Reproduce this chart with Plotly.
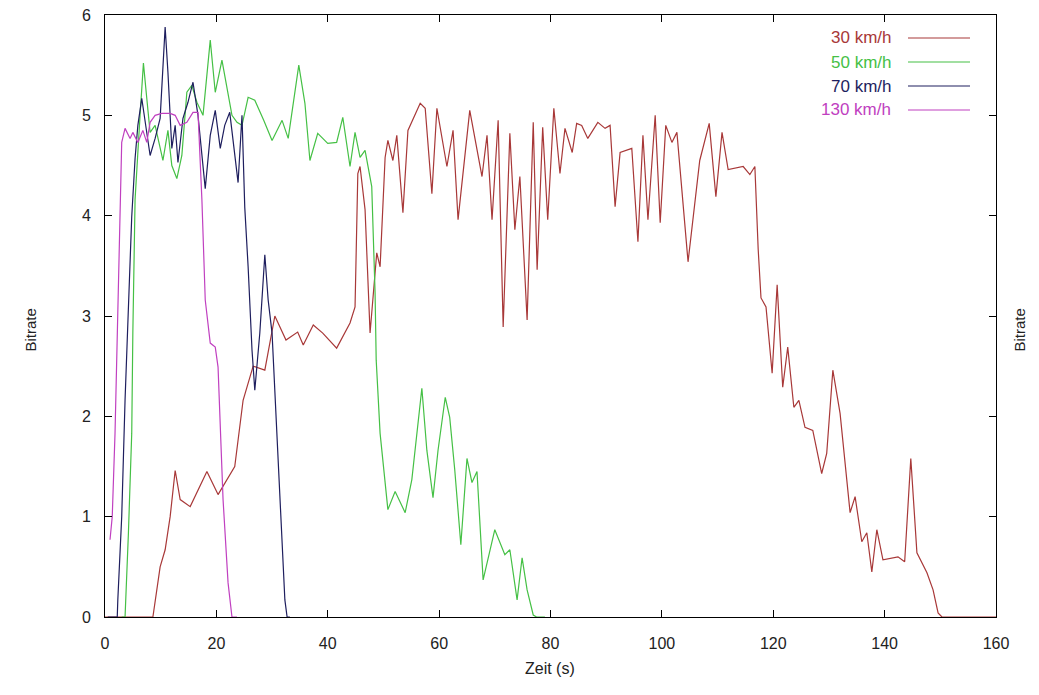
import plotly.graph_objects as go

# ---- data (time in s, bitrate) ----
series_names = ["30 km/h", "50 km/h", "70 km/h", "130 km/h"]

kmh30 = [(0, 0), (8.6, 0), (9.9, 0.5), (10.8, 0.67), (11.7, 1.0), (12.6, 1.46), (13.5, 1.17),
         (15.3, 1.1), (18.3, 1.45), (20.3, 1.22), (23.3, 1.5), (24.8, 2.16), (26.6, 2.5),
         (28.7, 2.46), (30.5, 3.0), (32.5, 2.76), (34.6, 2.84), (35.6, 2.71), (37.4, 2.91),
         (39.1, 2.83), (41.6, 2.68), (44.0, 2.93), (44.9, 3.09), (45.4, 4.42), (45.8, 4.49),
         (46.7, 4.06), (47.6, 2.83), (48.2, 3.23), (48.8, 3.63), (49.4, 3.49), (50.3, 4.58),
         (50.8, 4.75), (51.7, 4.55), (52.4, 4.80), (53.5, 4.03), (54.4, 4.85), (56.6, 5.12),
         (57.5, 5.07), (58.7, 4.22), (59.6, 5.07), (61.4, 4.49), (62.5, 4.85), (63.4, 3.96),
         (65.5, 5.05), (67.7, 4.39), (68.6, 4.80), (69.5, 3.96), (70.6, 4.95), (71.5, 2.89),
         (72.7, 4.82), (73.6, 3.86), (74.5, 4.39), (75.8, 2.96), (76.9, 4.93), (77.6, 3.46),
         (78.6, 4.88), (79.5, 3.96), (80.6, 5.07), (81.7, 4.42), (82.6, 4.87), (83.9, 4.63),
         (84.7, 4.92), (85.6, 4.90), (86.7, 4.77), (88.5, 4.93), (89.8, 4.87), (90.7, 4.90),
         (91.6, 4.09), (92.5, 4.63), (94.6, 4.67), (95.7, 3.74), (96.6, 4.80), (97.5, 3.96),
         (98.8, 5.00), (99.7, 3.93), (100.7, 4.90), (101.8, 4.73), (102.7, 4.83), (104.7, 3.54),
         (106.8, 4.55), (108.5, 4.92), (109.7, 4.19), (110.8, 4.83), (111.9, 4.46), (114.6, 4.49),
         (115.8, 4.41), (116.7, 4.49), (117.3, 3.66), (117.8, 3.18), (118.7, 3.09), (119.8, 2.43),
         (120.7, 3.31), (121.7, 2.29), (122.6, 2.69), (123.7, 2.09), (124.6, 2.16), (125.7, 1.89),
         (127.1, 1.86), (128.7, 1.43), (129.6, 1.63), (130.7, 2.46), (132.0, 2.03), (133.8, 1.04),
         (134.7, 1.20), (135.9, 0.75), (136.8, 0.84), (137.7, 0.45), (138.6, 0.87), (139.7, 0.57),
         (142.4, 0.60), (143.6, 0.55), (144.7, 1.58), (145.8, 0.64), (147.6, 0.44), (148.7, 0.27),
         (149.6, 0.04), (150.3, 0), (160, 0)]

kmh50 = [(3.0, 0), (3.6, 0), (4.2, 0.83), (4.8, 1.83), (5.0, 2.83), (5.4, 4.16), (6.3, 5.0),
         (6.9, 5.52), (7.5, 5.17), (8.1, 4.83), (9.0, 4.9), (10.4, 4.55), (11.3, 4.85), (12.0, 4.5),
         (12.9, 4.37), (13.8, 4.6), (14.7, 5.23), (15.6, 5.3), (16.5, 5.13), (17.6, 5.0),
         (18.9, 5.75), (19.8, 5.23), (21.0, 5.55), (22.1, 5.2), (22.8, 5.0), (23.7, 4.93),
         (24.6, 4.9), (25.7, 5.18), (26.9, 5.15), (28.5, 4.95), (30.0, 4.75), (31.8, 4.95),
         (32.9, 4.77), (34.8, 5.50), (35.9, 5.12), (36.8, 4.55), (38.2, 4.82), (40.0, 4.72),
         (41.6, 4.73), (42.7, 4.98), (44.0, 4.49), (44.9, 4.83), (45.8, 4.58), (46.7, 4.65),
         (47.9, 4.29), (48.5, 3.23), (48.7, 2.56), (49.4, 1.83), (50.3, 1.37), (50.8, 1.07),
         (52.1, 1.25), (53.9, 1.04), (55.1, 1.37), (56.9, 2.28), (57.8, 1.66), (58.9, 1.19),
         (59.8, 1.66), (61.1, 2.19), (61.9, 1.99), (62.8, 1.47), (63.9, 0.72), (65.0, 1.58),
         (65.9, 1.34), (66.8, 1.45), (67.9, 0.37), (70.0, 0.87), (71.8, 0.62), (72.7, 0.67),
         (74.0, 0.17), (74.9, 0.59), (75.8, 0.27), (76.9, 0.02), (77.5, 0), (79.0, 0)]

kmh70 = [(0.5, 0), (2.2, 0), (2.3, 0.17), (3.0, 1.0), (3.6, 2.16), (4.2, 3.16), (4.8, 3.99),
         (5.4, 4.57), (5.9, 4.9), (6.6, 5.17), (7.2, 4.93), (8.1, 4.6), (9.0, 4.77), (9.9, 4.97),
         (10.8, 5.88), (11.3, 5.43), (12.0, 4.67), (12.6, 4.9), (13.1, 4.53), (14.0, 4.97),
         (14.9, 5.13), (15.8, 5.33), (16.7, 5.0), (17.4, 4.6), (18.0, 4.27), (18.9, 4.8),
         (19.8, 5.05), (20.7, 4.67), (21.5, 4.9), (22.4, 5.03), (23.3, 4.6), (23.9, 4.33),
         (24.6, 5.0), (25.1, 4.08), (25.7, 3.49), (26.4, 2.66), (26.9, 2.26), (27.8, 2.83),
         (28.7, 3.61), (29.3, 3.16), (30.0, 2.83), (30.9, 1.83), (31.8, 0.84), (32.3, 0.17),
         (32.7, 0), (33.2, 0)]

kmh130 = [(0.9, 0.77), (1.3, 1.0), (1.8, 1.83), (2.3, 3.16), (2.7, 4.16), (3.0, 4.73),
          (3.6, 4.87), (4.5, 4.77), (5.0, 4.83), (5.9, 4.73), (6.8, 4.85), (7.5, 4.73),
          (8.1, 4.93), (9.0, 5.0), (10.2, 5.02), (11.7, 5.02), (12.6, 5.0), (13.5, 4.9),
          (14.7, 4.93), (15.8, 5.03), (16.7, 5.03), (17.4, 4.16), (18.0, 3.16), (18.9, 2.73),
          (19.8, 2.69), (20.3, 2.49), (21.2, 1.17), (22.1, 0.34), (22.8, 0), (23.7, 0)]

x_ticks = [0, 20, 40, 60, 80, 100, 120, 140, 160]
y_ticks = [0, 1, 2, 3, 4, 5, 6]

# ---- styling ----
colors = ["#a83838", "#45c045", "#1e1e5e", "#c040c0"]
FONT = "Liberation Sans Narrow, Liberation Sans, Arial, sans-serif"
OFF = 8                       # page body margin
W, H = 1039 - OFF, 695 - OFF  # figure fits inside the window
# plot area in page pixels: left 105, right 996, top 15, bottom 617
L, T = 105 - OFF, 15 - OFF
R, B = W - (996 - OFF), H - (617 - OFF)
pw, ph = W - L - R, H - T - B

fig = go.Figure()
for name, data, col in zip(series_names, [kmh30, kmh50, kmh70, kmh130], colors):
    xs = [p[0] for p in data]
    ys = [p[1] for p in data]
    fig.add_trace(go.Scatter(x=xs, y=ys, mode="lines", name=name,
                             line=dict(color=col, width=1.2), showlegend=False))

axis_common = dict(showgrid=False, zeroline=False, showline=True, linecolor="black",
                   linewidth=1, ticks="inside", ticklen=7, tickcolor="black",
                   mirror="allticks", ticklabeloverflow="allow",
                   tickfont=dict(family=FONT, size=16, color="#222"))
fig.update_xaxes(range=[0, 160], tickvals=x_ticks, ticktext=[str(v) for v in x_ticks],
                 ticklabelstandoff=12, **axis_common)
fig.update_yaxes(range=[0, 6], tickvals=y_ticks, ticktext=[str(v) for v in y_ticks],
                 ticklabelstandoff=10, **axis_common)

def px2paper(px, py):
    # page pixel -> paper coordinates
    return (px - OFF - L) / pw, (H - B - (py - OFF)) / ph

annotations = []
# axis titles
ax, ay = px2paper(550, 679)
annotations.append(dict(text="Zeit (s)", x=ax, y=ay, xref="paper", yref="paper",
                        showarrow=False, font=dict(family=FONT, size=16, color="#222")))
for tx in (19, 1029):
    ax, ay = px2paper(tx, 330)
    annotations.append(dict(text="Bitrate", x=ax, y=ay, xref="paper", yref="paper",
                            textangle=-90, showarrow=False,
                            font=dict(family=FONT, size=15, color="#222")))

# legend (text left of sample line, gnuplot style)
shapes = []
for i, (name, col) in enumerate(zip(series_names, colors)):
    py = 38 + 24 * i
    ax, ay = px2paper(893, py)
    annotations.append(dict(text=name, x=ax, y=ay, xref="paper", yref="paper",
                            xanchor="right", yanchor="middle", showarrow=False,
                            font=dict(family=FONT, size=17, color=col)))
    x0, _ = px2paper(908, py)
    x1, _ = px2paper(970, py)
    shapes.append(dict(type="line", xref="paper", yref="paper", x0=x0, x1=x1, y0=ay, y1=ay,
                       line=dict(color=col, width=1.2)))

fig.update_layout(width=W, height=H,
                  margin=dict(l=L, r=R, t=T, b=B, autoexpand=False),
                  paper_bgcolor="white", plot_bgcolor="white",
                  annotations=annotations, shapes=shapes, showlegend=False)

fig.write_html("out.html")
